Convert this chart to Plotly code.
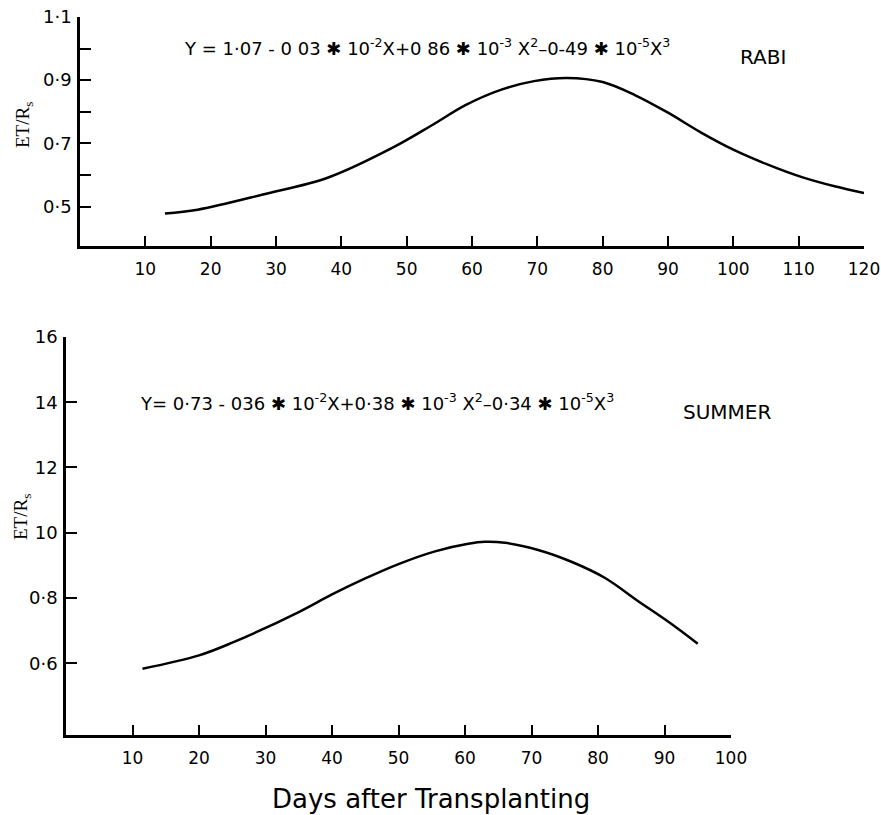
import plotly.graph_objects as go

# ---- data ----
rabi_days = [13, 18, 28, 38, 48, 54, 59, 64.5, 69.5, 74.5, 80, 85, 90, 95, 100, 105, 110.5, 115.5, 120]
rabi_ratio = [0.478, 0.490, 0.538, 0.592, 0.688, 0.759, 0.821, 0.870, 0.897, 0.907, 0.894,
              0.852, 0.797, 0.735, 0.680, 0.635, 0.593, 0.564, 0.543]

summer_days = [11.5, 20, 25, 35, 40, 45, 50, 55.5, 60.5, 63, 66, 71, 76, 81, 86, 91, 95]
summer_ratio = [0.583, 0.624, 0.663, 0.757, 0.811, 0.860, 0.904, 0.943, 0.966, 0.972, 0.969,
                0.947, 0.911, 0.862, 0.791, 0.721, 0.660]

rabi_xticks = [10, 20, 30, 40, 50, 60, 70, 80, 90, 100, 110, 120]
rabi_yticks = [0.5, 0.6, 0.7, 0.8, 0.9, 1.0, 1.1]
rabi_ylabels = ["0·5", "", "0·7", "", "0·9", "", "1·1"]

summer_xticks = [10, 20, 30, 40, 50, 60, 70, 80, 90, 100]
summer_yticks = [0.6, 0.8, 1.0, 1.2, 1.4, 1.6]
summer_ylabels = ["0·6", "0·8", "10", "12", "14", "16"]

rabi_eq = ("Y = 1·07 - 0 03 ✱ 10<sup>-2</sup>X+0 86 ✱ 10<sup>-3</sup> X<sup>2</sup>"
           "–0-49 ✱ 10<sup>-5</sup>X<sup>3</sup>")
summer_eq = ("Y= 0·73 - 036 ✱ 10<sup>-2</sup>X+0·38 ✱ 10<sup>-3</sup> X<sup>2</sup>"
             "–0·34 ✱ 10<sup>-5</sup>X<sup>3</sup>")

W, H = 881, 815
FONT = "DejaVu Sans"


def fx(p):
    return p / W


def fy(p):
    return 1 - p / H


fig = go.Figure()
fig.add_trace(go.Scatter(x=rabi_days, y=rabi_ratio, mode="lines",
                         line=dict(color="black", width=2.5, shape="spline", smoothing=1.0),
                         xaxis="x", yaxis="y", showlegend=False, hoverinfo="skip"))
fig.add_trace(go.Scatter(x=summer_days, y=summer_ratio, mode="lines",
                         line=dict(color="black", width=2.5, shape="spline", smoothing=1.0),
                         xaxis="x2", yaxis="y2", showlegend=False, hoverinfo="skip"))

common_x = dict(showline=True, linecolor="black", linewidth=2.5, ticks="inside", ticklen=10,
                tickwidth=2, tickcolor="black", showgrid=False, zeroline=False, automargin=False,
                ticklabeloverflow="allow",
                tickfont=dict(family=FONT, size=17, color="black"), ticklabelstandoff=6)
common_y = dict(showline=True, linecolor="black", linewidth=2.5, ticks="inside", ticklen=11,
                tickwidth=2, tickcolor="black", showgrid=False, zeroline=False, automargin=False,
                ticklabeloverflow="allow",
                tickfont=dict(family=FONT, size=18, color="black"), ticklabelstandoff=2)

fig.update_layout(
    width=W, height=H, margin=dict(l=0, r=0, t=0, b=0, autoexpand=False),
    paper_bgcolor="white", plot_bgcolor="white",
    xaxis=dict(domain=[fx(80), fx(864)], range=[0, 120], tickvals=rabi_xticks,
               anchor="y", **common_x),
    yaxis=dict(domain=[fy(246), fy(17)], range=[0.375, 1.1], tickvals=rabi_yticks,
               ticktext=rabi_ylabels, anchor="x", **common_y),
    xaxis2=dict(domain=[fx(66), fx(731)], range=[0, 100], tickvals=summer_xticks,
                anchor="y2", **common_x),
    yaxis2=dict(domain=[fy(735), fy(337)], range=[0.38, 1.6], tickvals=summer_yticks,
                ticktext=summer_ylabels, anchor="x2", **common_y),
)


def ann(text, px, py, size, family=FONT, angle=0, xanchor="left"):
    fig.add_annotation(text=text, x=fx(px), y=fy(py), xref="paper", yref="paper",
                       xanchor=xanchor, yanchor="middle", showarrow=False, textangle=angle,
                       font=dict(family=family, size=size, color="black"))


ann(rabi_eq, 182, 47, 18)
ann("RABI", 738, 57, 20)
ann(summer_eq, 138, 402, 18)
ann("SUMMER", 681, 412, 20)
ann("ET/R<sub>s</sub>", 24, 125, 19, family="Liberation Serif", angle=-90, xanchor="center")
ann("ET/R<sub>s</sub>", 22, 517, 19, family="Liberation Serif", angle=-90, xanchor="center")
ann("Days after Transplanting", 431, 799, 26, xanchor="center")

fig.write_html(
    "out.html",
    config={"displayModeBar": False},
    post_script="document.body.style.margin='0';document.body.style.overflow='hidden';",
)
